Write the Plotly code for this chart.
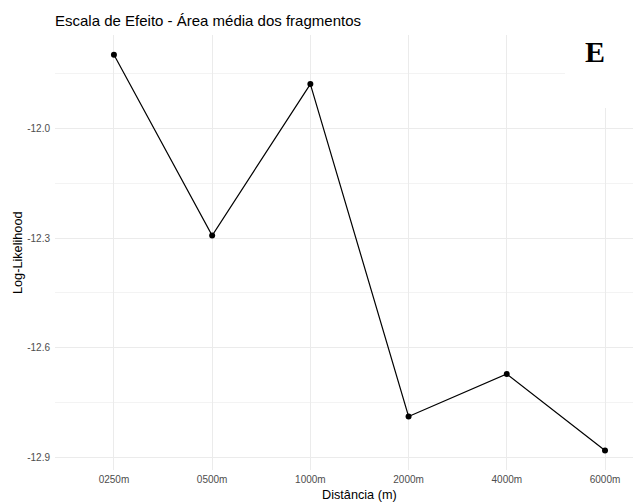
import plotly.graph_objects as go

categories = ["0250m", "0500m", "1000m", "2000m", "4000m", "6000m"]
loglik = [-11.800, -12.293, -11.880, -12.787, -12.671, -12.880]
y_ticks = [-12.9, -12.6, -12.3, -12.0]
y_tick_labels = ["-12.9", "-12.6", "-12.3", "-12.0"]

W, H = 633, 502
L, R, T, B = 55, 0, 35, 32
FONT = "Liberation Sans, Arial, sans-serif"

fig = go.Figure()
fig.add_trace(go.Scatter(
    x=categories, y=loglik, mode="lines+markers",
    line=dict(color="black", width=1.2),
    marker=dict(color="black", size=6),
    showlegend=False, hoverinfo="skip",
))

fig.update_layout(
    width=W, height=H,
    margin=dict(l=L, r=R, t=T, b=B, pad=0),
    paper_bgcolor="white", plot_bgcolor="white",
    font=dict(family=FONT, color="#4D4D4D", size=10),
    title=dict(text="Escala de Efeito - Área média dos fragmentos",
               font=dict(family=FONT, size=15, color="black"),
               xref="paper", x=0, xanchor="left",
               yref="container", y=1 - 20.5 / H, yanchor="middle"),
    xaxis=dict(type="category", categoryorder="array", categoryarray=categories,
               range=[-0.6, 5.285], showgrid=True, gridcolor="#EBEBEB", gridwidth=1.2,
               zeroline=False, showline=False, ticks="", tickfont=dict(size=10, color="#4D4D4D"),
               ticklabelstandoff=2),
    yaxis=dict(range=[-12.933, -11.746], tickvals=y_ticks, ticktext=y_tick_labels,
               showgrid=True, gridcolor="#EBEBEB", gridwidth=1.2,
               minor=dict(showgrid=True, gridcolor="#F3F3F3", gridwidth=1, dtick=0.15, tick0=-12.0),
               zeroline=False, showline=False, ticks="", tickfont=dict(size=10, color="#4D4D4D"),
               ticklabelstandoff=4),
)

pw = W - L - R
ph = H - T - B
# white label box covering grid in the top-right corner
fig.add_shape(type="rect", xref="paper", yref="paper",
              x0=(565 - L) / pw, x1=1.0, y0=(H - B - 108) / ph, y1=1.0 + T / ph,
              fillcolor="white", line=dict(width=0), layer="above")

fig.add_annotation(text="E", xref="paper", yref="paper",
                   x=(595 - L) / pw, y=(H - B - 51) / ph, xanchor="center", yanchor="middle",
                   showarrow=False,
                   font=dict(family="Liberation Serif, Times New Roman, serif", size=30, color="black",
                             weight="bold"))

fig.add_annotation(text="Distância (m)", xref="paper", yref="paper",
                   x=(359 - L) / pw, y=-(495 - (H - B)) / ph, xanchor="center", yanchor="middle",
                   showarrow=False, font=dict(family=FONT, size=12.7, color="black"))
fig.add_annotation(text="Log-Likelihood", xref="paper", yref="paper",
                   x=-(L - 17.5) / pw, y=0.5, xanchor="center", yanchor="middle", textangle=-90,
                   showarrow=False, font=dict(family=FONT, size=12.7, color="black"))

fig.write_html("out.html")
